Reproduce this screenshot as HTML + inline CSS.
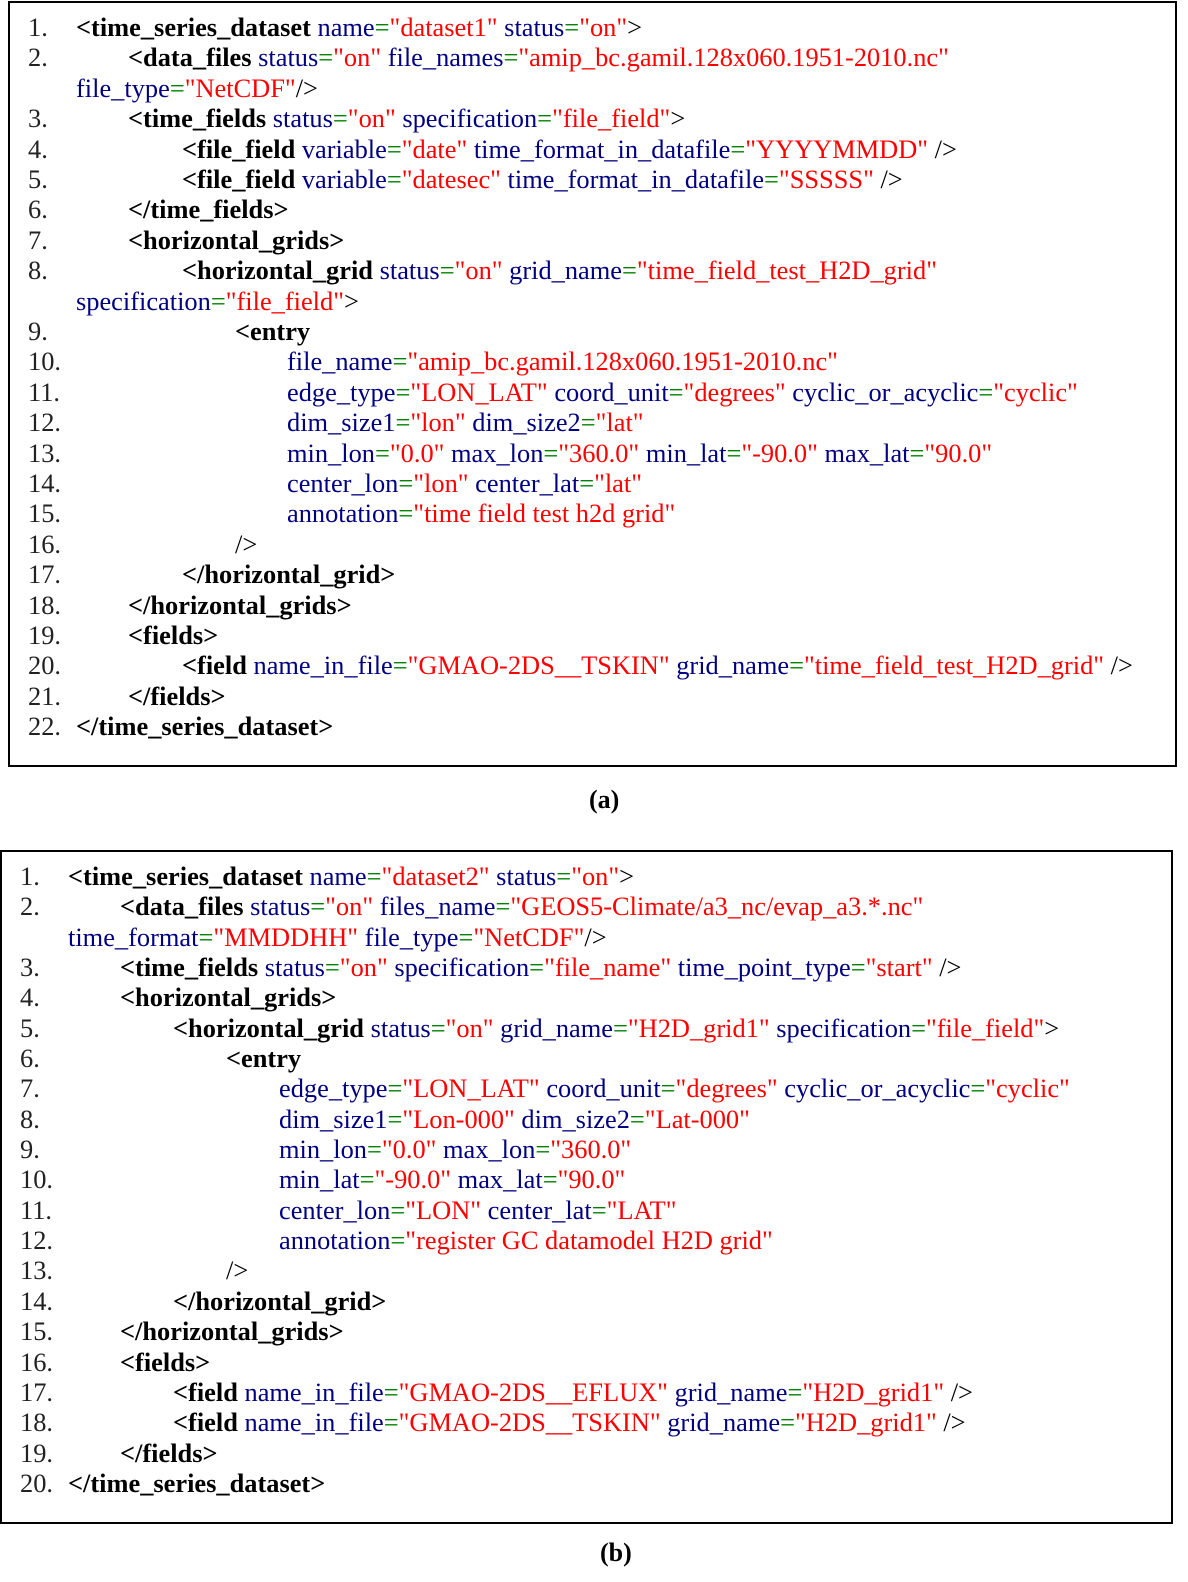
<!DOCTYPE html>
<html><head><meta charset="utf-8"><style>
body{margin:0;width:1188px;height:1582px;background:#fff;position:relative;overflow:hidden;font-family:"Liberation Serif",serif;font-size:26.4px;}
.box{position:absolute;border:2px solid #000;box-sizing:border-box;}
.l{position:absolute;white-space:pre;line-height:30px;height:30px;color:#000;}
b{font-weight:bold;color:#000}
i{font-style:normal;color:#000080}
u{text-decoration:none;color:#008000}
s{text-decoration:none;color:#ff0000}
.n{color:#222}
.cap{position:absolute;font-weight:bold;font-size:26px;line-height:30px;}
</style></head><body>
<div class="box" style="left:8px;top:1px;width:1169px;height:766px"></div>
<div class="box" style="left:0px;top:850px;width:1173px;height:674px"></div>
<div class="cap" style="left:589px;top:785px">(a)</div>
<div class="cap" style="left:600px;top:1538px">(b)</div>

<!-- (a) -->
<div class="l n" style="left:28px;top:12px">1.</div>
<div class="l" style="left:76px;top:12px"><b>&lt;time_series_dataset</b> <i>name</i><u>=</u><s>"dataset1"</s> <i>status</i><u>=</u><s>"on"</s>&gt;</div>
<div class="l n" style="left:28px;top:42px">2.</div>
<div class="l" style="left:128px;top:42px"><b>&lt;data_files</b> <i>status</i><u>=</u><s>"on"</s> <i>file_names</i><u>=</u><s>"amip_bc.gamil.128x060.1951-2010.nc"</s></div>
<div class="l" style="left:76px;top:73px"><i>file_type</i><u>=</u><s>"NetCDF"</s>/&gt;</div>
<div class="l n" style="left:28px;top:103px">3.</div>
<div class="l" style="left:128px;top:103px"><b>&lt;time_fields</b> <i>status</i><u>=</u><s>"on"</s> <i>specification</i><u>=</u><s>"file_field"</s>&gt;</div>
<div class="l n" style="left:28px;top:134px">4.</div>
<div class="l" style="left:182px;top:134px"><b>&lt;file_field</b> <i>variable</i><u>=</u><s>"date"</s> <i>time_format_in_datafile</i><u>=</u><s>"YYYYMMDD"</s> /&gt;</div>
<div class="l n" style="left:28px;top:164px">5.</div>
<div class="l" style="left:182px;top:164px"><b>&lt;file_field</b> <i>variable</i><u>=</u><s>"datesec"</s> <i>time_format_in_datafile</i><u>=</u><s>"SSSSS"</s> /&gt;</div>
<div class="l n" style="left:28px;top:194px">6.</div>
<div class="l" style="left:128px;top:194px"><b>&lt;/time_fields&gt;</b></div>
<div class="l n" style="left:28px;top:225px">7.</div>
<div class="l" style="left:128px;top:225px"><b>&lt;horizontal_grids&gt;</b></div>
<div class="l n" style="left:28px;top:255px">8.</div>
<div class="l" style="left:182px;top:255px"><b>&lt;horizontal_grid</b> <i>status</i><u>=</u><s>"on"</s> <i>grid_name</i><u>=</u><s>"time_field_test_H2D_grid"</s></div>
<div class="l" style="left:76px;top:286px"><i>specification</i><u>=</u><s>"file_field"</s>&gt;</div>
<div class="l n" style="left:28px;top:316px">9.</div>
<div class="l" style="left:235px;top:316px"><b>&lt;entry</b></div>
<div class="l n" style="left:28px;top:346px">10.</div>
<div class="l" style="left:287px;top:346px"><i>file_name</i><u>=</u><s>"amip_bc.gamil.128x060.1951-2010.nc"</s></div>
<div class="l n" style="left:28px;top:377px">11.</div>
<div class="l" style="left:287px;top:377px"><i>edge_type</i><u>=</u><s>"LON_LAT"</s> <i>coord_unit</i><u>=</u><s>"degrees"</s> <i>cyclic_or_acyclic</i><u>=</u><s>"cyclic"</s></div>
<div class="l n" style="left:28px;top:407px">12.</div>
<div class="l" style="left:287px;top:407px"><i>dim_size1</i><u>=</u><s>"lon"</s> <i>dim_size2</i><u>=</u><s>"lat"</s></div>
<div class="l n" style="left:28px;top:438px">13.</div>
<div class="l" style="left:287px;top:438px"><i>min_lon</i><u>=</u><s>"0.0"</s> <i>max_lon</i><u>=</u><s>"360.0"</s> <i>min_lat</i><u>=</u><s>"-90.0"</s> <i>max_lat</i><u>=</u><s>"90.0"</s></div>
<div class="l n" style="left:28px;top:468px">14.</div>
<div class="l" style="left:287px;top:468px"><i>center_lon</i><u>=</u><s>"lon"</s> <i>center_lat</i><u>=</u><s>"lat"</s></div>
<div class="l n" style="left:28px;top:498px">15.</div>
<div class="l" style="left:287px;top:498px"><i>annotation</i><u>=</u><s>"time field test h2d grid"</s></div>
<div class="l n" style="left:28px;top:529px">16.</div>
<div class="l" style="left:235px;top:529px">/&gt;</div>
<div class="l n" style="left:28px;top:559px">17.</div>
<div class="l" style="left:182px;top:559px"><b>&lt;/horizontal_grid&gt;</b></div>
<div class="l n" style="left:28px;top:590px">18.</div>
<div class="l" style="left:128px;top:590px"><b>&lt;/horizontal_grids&gt;</b></div>
<div class="l n" style="left:28px;top:620px">19.</div>
<div class="l" style="left:128px;top:620px"><b>&lt;fields&gt;</b></div>
<div class="l n" style="left:28px;top:650px">20.</div>
<div class="l" style="left:182px;top:650px"><b>&lt;field</b> <i>name_in_file</i><u>=</u><s>"GMAO-2DS__TSKIN"</s> <i>grid_name</i><u>=</u><s>"time_field_test_H2D_grid"</s> /&gt;</div>
<div class="l n" style="left:28px;top:681px">21.</div>
<div class="l" style="left:128px;top:681px"><b>&lt;/fields&gt;</b></div>
<div class="l n" style="left:28px;top:711px">22.</div>
<div class="l" style="left:76px;top:711px"><b>&lt;/time_series_dataset&gt;</b></div>

<!-- (b) -->
<div class="l n" style="left:20px;top:861px">1.</div>
<div class="l" style="left:68px;top:861px"><b>&lt;time_series_dataset</b> <i>name</i><u>=</u><s>"dataset2"</s> <i>status</i><u>=</u><s>"on"</s>&gt;</div>
<div class="l n" style="left:20px;top:891px">2.</div>
<div class="l" style="left:120px;top:891px"><b>&lt;data_files</b> <i>status</i><u>=</u><s>"on"</s> <i>files_name</i><u>=</u><s>"GEOS5-Climate/a3_nc/evap_a3.*.nc"</s></div>
<div class="l" style="left:68px;top:922px"><i>time_format</i><u>=</u><s>"MMDDHH"</s> <i>file_type</i><u>=</u><s>"NetCDF"</s>/&gt;</div>
<div class="l n" style="left:20px;top:952px">3.</div>
<div class="l" style="left:120px;top:952px"><b>&lt;time_fields</b> <i>status</i><u>=</u><s>"on"</s> <i>specification</i><u>=</u><s>"file_name"</s> <i>time_point_type</i><u>=</u><s>"start"</s> /&gt;</div>
<div class="l n" style="left:20px;top:982px">4.</div>
<div class="l" style="left:120px;top:982px"><b>&lt;horizontal_grids&gt;</b></div>
<div class="l n" style="left:20px;top:1013px">5.</div>
<div class="l" style="left:173px;top:1013px"><b>&lt;horizontal_grid</b> <i>status</i><u>=</u><s>"on"</s> <i>grid_name</i><u>=</u><s>"H2D_grid1"</s> <i>specification</i><u>=</u><s>"file_field"</s>&gt;</div>
<div class="l n" style="left:20px;top:1043px">6.</div>
<div class="l" style="left:226px;top:1043px"><b>&lt;entry</b></div>
<div class="l n" style="left:20px;top:1073px">7.</div>
<div class="l" style="left:279px;top:1073px"><i>edge_type</i><u>=</u><s>"LON_LAT"</s> <i>coord_unit</i><u>=</u><s>"degrees"</s> <i>cyclic_or_acyclic</i><u>=</u><s>"cyclic"</s></div>
<div class="l n" style="left:20px;top:1104px">8.</div>
<div class="l" style="left:279px;top:1104px"><i>dim_size1</i><u>=</u><s>"Lon-000"</s> <i>dim_size2</i><u>=</u><s>"Lat-000"</s></div>
<div class="l n" style="left:20px;top:1134px">9.</div>
<div class="l" style="left:279px;top:1134px"><i>min_lon</i><u>=</u><s>"0.0"</s> <i>max_lon</i><u>=</u><s>"360.0"</s></div>
<div class="l n" style="left:20px;top:1164px">10.</div>
<div class="l" style="left:279px;top:1164px"><i>min_lat</i><u>=</u><s>"-90.0"</s> <i>max_lat</i><u>=</u><s>"90.0"</s></div>
<div class="l n" style="left:20px;top:1195px">11.</div>
<div class="l" style="left:279px;top:1195px"><i>center_lon</i><u>=</u><s>"LON"</s> <i>center_lat</i><u>=</u><s>"LAT"</s></div>
<div class="l n" style="left:20px;top:1225px">12.</div>
<div class="l" style="left:279px;top:1225px"><i>annotation</i><u>=</u><s>"register GC datamodel H2D grid"</s></div>
<div class="l n" style="left:20px;top:1255px">13.</div>
<div class="l" style="left:226px;top:1255px">/&gt;</div>
<div class="l n" style="left:20px;top:1286px">14.</div>
<div class="l" style="left:173px;top:1286px"><b>&lt;/horizontal_grid&gt;</b></div>
<div class="l n" style="left:20px;top:1316px">15.</div>
<div class="l" style="left:120px;top:1316px"><b>&lt;/horizontal_grids&gt;</b></div>
<div class="l n" style="left:20px;top:1347px">16.</div>
<div class="l" style="left:120px;top:1347px"><b>&lt;fields&gt;</b></div>
<div class="l n" style="left:20px;top:1377px">17.</div>
<div class="l" style="left:173px;top:1377px"><b>&lt;field</b> <i>name_in_file</i><u>=</u><s>"GMAO-2DS__EFLUX"</s> <i>grid_name</i><u>=</u><s>"H2D_grid1"</s> /&gt;</div>
<div class="l n" style="left:20px;top:1407px">18.</div>
<div class="l" style="left:173px;top:1407px"><b>&lt;field</b> <i>name_in_file</i><u>=</u><s>"GMAO-2DS__TSKIN"</s> <i>grid_name</i><u>=</u><s>"H2D_grid1"</s> /&gt;</div>
<div class="l n" style="left:20px;top:1438px">19.</div>
<div class="l" style="left:120px;top:1438px"><b>&lt;/fields&gt;</b></div>
<div class="l n" style="left:20px;top:1468px">20.</div>
<div class="l" style="left:68px;top:1468px"><b>&lt;/time_series_dataset&gt;</b></div>
</body></html>
